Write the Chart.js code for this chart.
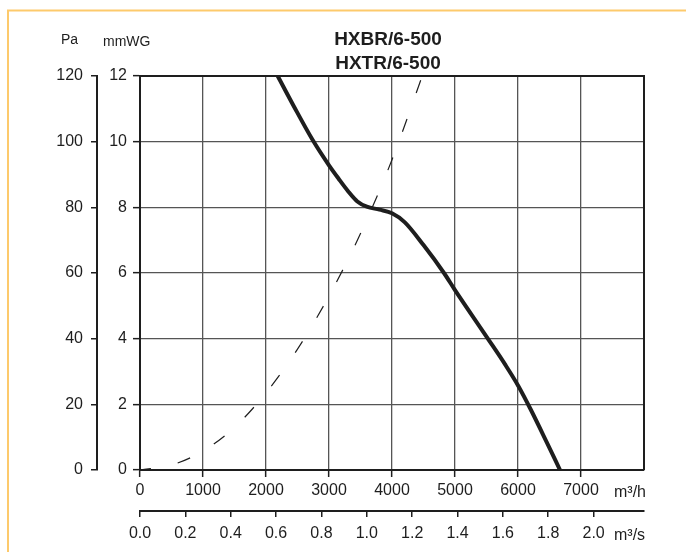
<!DOCTYPE html>
<html>
<head>
<meta charset="utf-8">
<script src="https://cdn.jsdelivr.net/npm/chart.js@4.4.1/dist/chart.umd.min.js"></script>
<style>
  html, body { margin: 0; padding: 0; background: #fff; }
  #wrap { position: relative; width: 686px; height: 552px; }
</style>
</head>
<body>
<div id="wrap"><canvas id="fan"></canvas></div>
<script>
// fan curve (m3/h vs mmWG)
const fanFlow  = [2186, 2450, 2741, 3000, 3150, 3300, 3450, 3600, 3800, 4000, 4200, 4500, 4825, 5000, 5529, 5800, 6005, 6200, 6455, 6667];
const fanPress = [12, 11.05, 10.05, 9.28, 8.88, 8.5, 8.18, 8.02, 7.93, 7.82, 7.55, 6.85, 6.0, 5.48, 3.98, 3.2, 2.56, 1.85, 0.85, 0];

// dashed system curve
const sysFlow  = [0, 500, 1000, 1500, 2000, 2500, 3000, 3500, 4000, 4480];
const sysPress = [0, 0.15, 0.58, 1.3, 2.35, 3.68, 5.3, 7.2, 9.45, 12];

const titleLines = ['HXBR/6-500', 'HXTR/6-500'];
const flowMaxH = 8000;      // m3/h at right edge
const flowTickMaxH = 7000;
const flowTickMaxS = 2.0;

const FONT = '"Liberation Sans", Arial, sans-serif';
const INK = '#1e1e1e';

const toPts = (xs, ys) => xs.map((x, i) => ({ x: x, y: ys[i] }));

// frame, orange page border and loose texts
const extras = {
  id: 'extras',
  beforeDraw(chart) {
    const c = chart.ctx;
    c.save();
    c.fillStyle = '#fff';
    c.fillRect(0, 0, chart.width, chart.height);
    c.strokeStyle = '#fdca6c';
    c.lineWidth = 2;
    c.beginPath();
    c.moveTo(8, 553); c.lineTo(8, 10.5); c.lineTo(687, 10.5);
    c.stroke();
    c.restore();
  },
  afterDraw(chart) {
    const c = chart.ctx, a = chart.chartArea;
    c.save();
    c.strokeStyle = INK;
    c.lineWidth = 2;
    c.beginPath();
    c.moveTo(a.left, a.top); c.lineTo(a.right, a.top); c.lineTo(a.right, a.bottom);
    c.stroke();

    c.fillStyle = INK;
    c.textBaseline = 'alphabetic';
    c.textAlign = 'left';
    c.font = '14px ' + FONT;
    c.fillText('Pa', 61, 44);
    c.fillText('mmWG', 103, 46);
    c.font = '16px ' + FONT;
    c.fillText('m³/h', 614, 497);
    c.fillText('m³/s', 614, 540);

    c.textAlign = 'center';
    c.font = 'bold 19px ' + FONT;
    c.fillText(titleLines[0], 388, 45);
    c.fillText(titleLines[1], 388, 69);
    c.restore();
  }
};

new Chart(document.getElementById('fan'), {
  type: 'line',
  data: {
    datasets: [
      {
        data: toPts(fanFlow, fanPress),
        borderColor: INK,
        borderWidth: 4,
        pointRadius: 0,
        cubicInterpolationMode: 'monotone',
        xAxisID: 'x', yAxisID: 'y'
      },
      {
        data: toPts(sysFlow, sysPress),
        borderColor: INK,
        borderWidth: 1.2,
        borderDash: [13.5, 27.5],
        borderDashOffset: 2.5,
        pointRadius: 0,
        cubicInterpolationMode: 'monotone',
        xAxisID: 'x', yAxisID: 'y'
      }
    ]
  },
  options: {
    responsive: true,
    maintainAspectRatio: false,
    animation: false,
    layout: { padding: { left: 50, right: 42, top: 76, bottom: 7 } },
    plugins: {
      legend: { display: false },
      tooltip: { enabled: false },
      title: { display: false }
    },
    scales: {
      x: {
        type: 'linear', position: 'bottom', min: 0, max: flowMaxH,
        afterBuildTicks: s => { s.ticks = s.ticks.filter(t => t.value <= flowTickMaxH); },
        afterFit: s => { s.height = 41; },
        ticks: { stepSize: 1000, color: INK, font: { family: FONT, size: 16 }, padding: 4, maxRotation: 0,
          callback: v => String(v) },
        grid: { color: '#555', lineWidth: 1.3, tickLength: 7, tickColor: INK, tickWidth: 1.5 },
        border: { color: INK, width: 2 }
      },
      xs: {
        type: 'linear', position: 'bottom', min: 0, max: flowMaxH / 3600,
        afterBuildTicks: s => { s.ticks = s.ticks.filter(t => t.value <= flowTickMaxS + 1e-6); },
        afterFit: s => { s.height = 34; },
        ticks: {
          stepSize: 0.2, color: INK, font: { family: FONT, size: 16 }, padding: 7, maxRotation: 0,
          callback: v => Number(v).toFixed(1)
        },
        grid: { drawOnChartArea: false, tickLength: 6, color: INK, lineWidth: 1.5 },
        border: { color: INK, width: 2 }
      },
      y: {
        type: 'linear', position: 'left', weight: 0, min: 0, max: 12,
        afterFit: s => { s.width = 43; },
        ticks: { stepSize: 2, color: INK, font: { family: FONT, size: 16 }, padding: 6 },
        grid: { color: '#555', lineWidth: 1.3, tickLength: 7, tickColor: INK, tickWidth: 1.5 },
        border: { color: INK, width: 2 }
      },
      pa: {
        type: 'linear', position: 'left', weight: 1, min: 0, max: 120,
        afterFit: s => { s.width = 47; },
        ticks: { stepSize: 20, color: INK, font: { family: FONT, size: 16 }, padding: 8 },
        grid: { drawOnChartArea: false, tickLength: 6, color: INK, lineWidth: 1.5 },
        border: { color: INK, width: 2 }
      }
    }
  },
  plugins: [extras]
});
</script>
</body>
</html>
